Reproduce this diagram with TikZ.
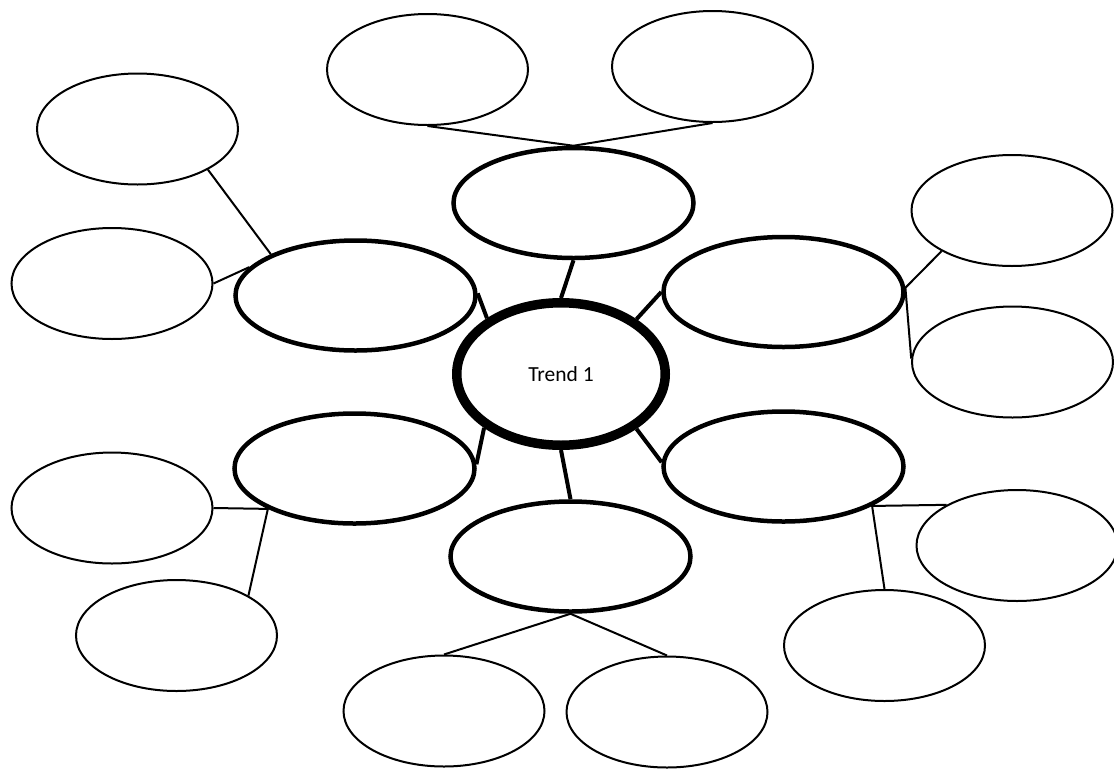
\documentclass[tikz,border=0pt]{standalone}
\usepackage{fontspec}
\setmainfont{Carlito}
\usetikzlibrary{shapes.geometric}
\begin{document}
\begin{tikzpicture}[x=1pt,y=-1pt,
  leaf/.style={ellipse,draw,line width=2pt,inner sep=0pt,minimum width=201pt,minimum height=111pt},
  branch/.style={ellipse,draw,line width=4.5pt,inner sep=0pt,minimum width=240pt,minimum height=110pt},
  hub/.style={ellipse,draw,line width=9.5pt,inner sep=0pt,minimum width=208.5pt,minimum height=142.5pt,font=\fontsize{21.5}{24}\selectfont},
  thin/.style={line width=2pt},
  thick/.style={line width=4pt}]
\useasboundingbox (0,0) rectangle (1114,769);

% central topic
\node[hub] (c) at (561,374) {Trend 1};

% first-level branches
\node[branch] (mt)  at (573.5,203)   {};
\node[branch] (mul) at (355.5,295.5) {};
\node[branch] (mur) at (783.5,292)   {};
\node[branch] (mll) at (354.5,468.5) {};
\node[branch] (mlr) at (783.5,466.5) {};
\node[branch] (mb)  at (570.5,556.5) {};

% second-level leaves
\node[leaf] (ltl) at (427.5,69.5)  {};
\node[leaf] (ltr) at (712.5,66.5)  {};
\node[leaf] (lul) at (137.5,129)   {};
\node[leaf] (lum) at (112,283.5)   {};
\node[leaf] (lrt) at (1012,210.5)  {};
\node[leaf] (lrb) at (1012.5,362)  {};
\node[leaf] (lll) at (112,508)     {};
\node[leaf] (llb) at (176.5,635.5) {};
\node[leaf] (lrr) at (1017,545.5)  {};
\node[leaf] (lrd) at (884.5,645.5) {};
\node[leaf] (lbl) at (444,711)     {};
\node[leaf] (lbr) at (667,712)     {};

% hub to branches
\draw[thick] (c.north) -- (mt.south);
\draw[thick] (c.143.6) -- (mul.1.6);
\draw[thick] (c.36.4) -- (mur.180);
\draw[thick] (c.215.4) -- (mll.2.6);
\draw[thick] (c.-36) -- (mlr.178.4);
\draw[thick] (c.south) -- (mb.north);

% branches to leaves
\draw[thin] (ltl.south) -- (mt.north) -- (ltr.south);
\draw[thin] (lul.-30) -- (mul.154);
\draw[thin] (lum.east) -- (mul.165.3);
\draw[thin] (lrt.-150) -- (mur.2) -- (lrb.178);
\coordinate (jl) at (mll.-155.5);
\draw[thin] (lll.east) -- (jl) -- (llb.29.2);
\coordinate (jr) at (mlr.-24.5);
\draw[thin] (lrr.150.6) -- (jr) -- (lrd.north);
\draw[thin] (lbl.north) -- (mb.south) -- (lbr.north);
\end{tikzpicture}
\end{document}
